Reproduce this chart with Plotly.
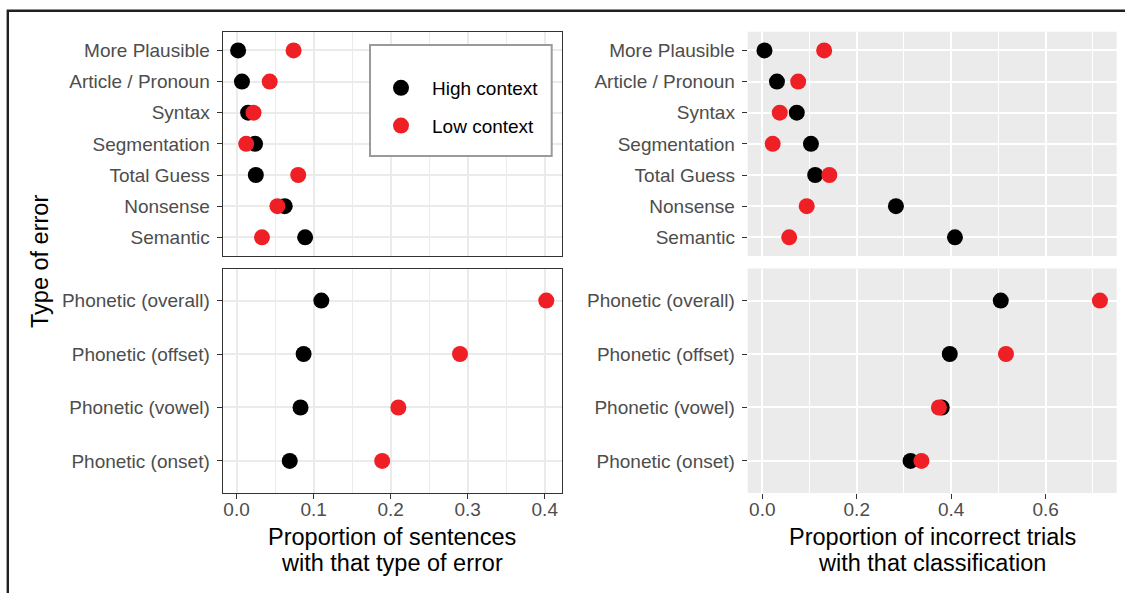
import plotly.graph_objects as go

# ---------------- data ----------------
top_categories = ["More Plausible", "Article / Pronoun", "Syntax", "Segmentation",
                  "Total Guess", "Nonsense", "Semantic"]
phon_categories = ["Phonetic (overall)", "Phonetic (offset)", "Phonetic (vowel)", "Phonetic (onset)"]

series_names = ["High context", "Low context"]

sentences_high_top = [0.002, 0.007, 0.015, 0.024, 0.025, 0.0625, 0.089]
sentences_low_top = [0.074, 0.043, 0.022, 0.0125, 0.080, 0.053, 0.033]
sentences_high_phon = [0.110, 0.087, 0.083, 0.069]
sentences_low_phon = [0.402, 0.290, 0.210, 0.189]

trials_high_top = [0.0046, 0.031, 0.073, 0.103, 0.112, 0.283, 0.408]
trials_low_top = [0.131, 0.076, 0.037, 0.022, 0.142, 0.094, 0.057]
trials_high_phon = [0.505, 0.397, 0.380, 0.314]
trials_low_phon = [0.715, 0.516, 0.374, 0.337]

left_ticks = [0.0, 0.1, 0.2, 0.3, 0.4]
right_ticks = [0.0, 0.2, 0.4, 0.6]

left_title = ["Proportion of sentences", "with that type of error"]
right_title = ["Proportion of incorrect trials", "with that classification"]
y_title = "Type of error"

# ---------------- style ----------------
W, H = 1125, 593
FONT = "Liberation Sans, Arial, Helvetica, sans-serif"
BLACK = "#000000"
RED = "#EE2025"
TICKCOL = "#333333"
LABCOL = "#4D4D4D"
GRID_BW = "#EBEBEB"
PANEL_GREY = "#EBEBEB"
TICKSIZE = 19
TITLESIZE = 23.5


def fx(px):
    return px / W


def fy(py):
    return 1 - py / H


left_dom = [fx(222.7), fx(561.7)]
right_dom = [fx(747.7), fx(1116.7)]
top_dom = [fy(256.0), fy(31.7)]
bot_dom = [fy(493.0), fy(268.5)]


def expand(vals, mult=0.05):
    lo, hi = min(vals), max(vals)
    span = hi - lo
    return [lo - mult * span, hi + mult * span]


left_range = expand(sentences_high_top + sentences_low_top + sentences_high_phon + sentences_low_phon)
right_range = expand(trials_high_top + trials_low_top + trials_high_phon + trials_low_phon)

fig = go.Figure()

panels = [
    ("x", "y", top_categories, sentences_high_top, sentences_low_top, True),
    ("x2", "y2", phon_categories, sentences_high_phon, sentences_low_phon, False),
    ("x3", "y3", top_categories, trials_high_top, trials_low_top, False),
    ("x4", "y4", phon_categories, trials_high_phon, trials_low_phon, False),
]

for xa, ya, cats, hi, lo, show in panels:
    for name, vals, col in ((series_names[0], hi, BLACK), (series_names[1], lo, RED)):
        fig.add_trace(go.Scatter(
            x=vals, y=cats, xaxis=xa, yaxis=ya, mode="markers", name=name,
            legendgroup=name, showlegend=show,
            marker=dict(size=16, color=col, line=dict(width=0)),
            hoverinfo="x+y+name",
        ))


def xaxis_common(rng, ticks, dom, left, show_labels, anchor):
    minor_dtick = (ticks[1] - ticks[0]) / 2
    d = dict(
        domain=dom, range=rng, anchor=anchor,
        tickmode="array", tickvals=ticks, ticktext=[f"{t:.1f}" for t in ticks],
        showticklabels=show_labels,
        ticks="outside" if show_labels else "", ticklen=5, tickwidth=1.3, tickcolor=TICKCOL,
        tickfont=dict(family=FONT, size=TICKSIZE, color=LABCOL),
        showgrid=True, zeroline=False,
        gridcolor=GRID_BW if left else "white", gridwidth=1.8,
        minor=dict(tick0=0, dtick=minor_dtick, showgrid=True,
                   gridcolor=GRID_BW if left else "white", gridwidth=0.9, ticks=""),
        showline=left, mirror=left, linecolor=TICKCOL, linewidth=1.3,
        ticklabelstandoff=-6,
        fixedrange=True,
    )
    return d


def yaxis_common(cats, dom, left, anchor, show_labels=True):
    return dict(
        domain=dom, anchor=anchor, type="category",
        categoryorder="array", categoryarray=list(reversed(cats)),
        range=[-0.6, len(cats) - 1 + 0.6],
        ticks="outside", ticklen=5, tickwidth=1.3, tickcolor=TICKCOL,
        tickfont=dict(family=FONT, size=TICKSIZE, color=LABCOL),
        showgrid=True, gridcolor=GRID_BW if left else "white", gridwidth=1.8,
        zeroline=False,
        showline=left, mirror=left, linecolor=TICKCOL, linewidth=1.3,
        ticklabelstandoff=3,
        fixedrange=True,
    )


fig.update_layout(
    xaxis=xaxis_common(left_range, left_ticks, left_dom, True, False, "y"),
    yaxis=yaxis_common(top_categories, top_dom, True, "x"),
    xaxis2=xaxis_common(left_range, left_ticks, left_dom, True, True, "y2"),
    yaxis2=yaxis_common(phon_categories, bot_dom, True, "x2"),
    xaxis3=xaxis_common(right_range, right_ticks, right_dom, False, False, "y3"),
    yaxis3=yaxis_common(top_categories, top_dom, False, "x3"),
    xaxis4=xaxis_common(right_range, right_ticks, right_dom, False, True, "y4"),
    yaxis4=yaxis_common(phon_categories, bot_dom, False, "x4"),
)

shapes = []
# grey panel backgrounds for the right column
for dom in (top_dom, bot_dom):
    shapes.append(dict(type="rect", xref="paper", yref="paper",
                       x0=right_dom[0], x1=right_dom[1], y0=dom[0], y1=dom[1],
                       fillcolor=PANEL_GREY, line=dict(width=0), layer="below"))
# legend box
shapes.append(dict(type="rect", xref="paper", yref="paper",
                   x0=fx(370), x1=fx(551.7), y0=fy(156), y1=fy(45),
                   fillcolor="white", line=dict(color="#9A9A9A", width=2), layer="above"))
# outer frame (left and top edges)
shapes.append(dict(type="path", xref="paper", yref="paper",
                   path=f"M {fx(7.8)} {fy(600)} L {fx(7.8)} {fy(10.8)} L {fx(1130)} {fy(10.8)}",
                   line=dict(color="#231F20", width=2.4), layer="above"))

annotations = []
title_font = dict(family=FONT, size=TITLESIZE, color="#000000")
for cx, lines in ((392.2, left_title), (932.2, right_title)):
    for i, line in enumerate(lines):
        annotations.append(dict(text=line, xref="paper", yref="paper",
                                x=fx(cx), y=fy(537 + 26 * i), xanchor="center", yanchor="middle",
                                showarrow=False, font=title_font))
annotations.append(dict(text=y_title, xref="paper", yref="paper", x=fx(40), y=fy(262),
                        xanchor="center", yanchor="middle", textangle=-90,
                        showarrow=False, font=title_font))

fig.update_layout(
    width=W, height=H, autosize=False,
    margin=dict(l=0, r=0, t=0, b=0),
    paper_bgcolor="white", plot_bgcolor="rgba(0,0,0,0)",
    shapes=shapes, annotations=annotations,
    showlegend=True,
    legend=dict(x=fx(370), y=fy(69), xanchor="left", yanchor="top",
                bgcolor="rgba(0,0,0,0)", borderwidth=0,
                font=dict(family=FONT, size=TICKSIZE, color="#000000"),
                itemwidth=52, tracegroupgap=10, traceorder="grouped",
                itemclick=False, itemdoubleclick=False),
    font=dict(family=FONT),
)

fig.write_html("out.html")
